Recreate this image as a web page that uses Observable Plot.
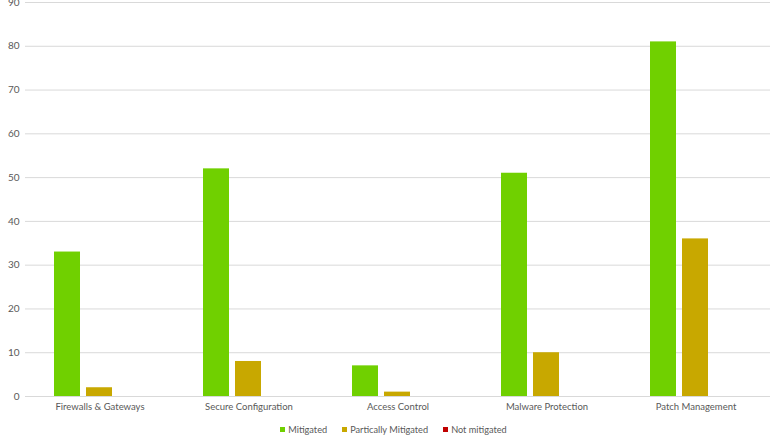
<!DOCTYPE html>
<html><head><meta charset="utf-8">
<script src="https://cdn.jsdelivr.net/npm/d3@7"></script>
<script src="https://cdn.jsdelivr.net/npm/@observablehq/plot@0.6"></script>
<style>
body{margin:0;background:#fff;font-family:Lato,"Open Sans",sans-serif;}
#legend{display:flex;justify-content:center;align-items:center;height:18px;font-size:9.2px;color:#595959;gap:15px;padding-left:6px;}
#legend span.sw{display:inline-block;width:5px;height:5px;margin-right:3px;vertical-align:middle;position:relative;top:-1px;}
</style>
</head><body><div id="chart"></div><div id="legend"></div><script>
const categories = ["Firewalls & Gateways","Secure Configuration","Access Control","Malware Protection","Patch Management"];
const series = ["Mitigated","Partically Mitigated","Not mitigated"];
const mitigated = [33,52,7,51,81];
const partially = [2,8,1,10,36];
const notMitigated = [0,0,0,0,0];
const colors = ["#70d000","#c8a800","#c00000"];
const yTicks = [0,10,20,30,40,50,60,70,80,90];

const values = [mitigated, partially, notMitigated];
const data = categories.flatMap((c,i)=>series.map((s,j)=>({category:c, series:s, value:values[j][i]})));

const chart = Plot.plot({
  width:781, height:420, marginLeft:24, marginRight:10, marginTop:2, marginBottom:24,
  style:{fontFamily:"Lato, 'Open Sans', sans-serif", fontSize:"10px", color:"#595959", background:"#fff"},
  fx:{domain:categories, padding:0, label:null, axis:"bottom", tickSize:0, tickPadding:7},
  x:{domain:series, axis:null, paddingInner:0.182, paddingOuter:0.85},
  y:{domain:[0,90], ticks:yTicks, label:null, tickSize:0, tickPadding:6},
  color:{domain:series, range:colors},
  marks:[
    Plot.ruleY(yTicks,{stroke:"#d9d9d9", strokeWidth:1}),
    Plot.barY(data,{fx:"category", x:"series", y:"value", fill:"series"})
  ]
});
d3.select(chart).selectAll("g[aria-label='fx-axis tick label'] text, g[aria-label='fx-axis'] text").style("font-size","9.5px");
document.getElementById("chart").appendChild(chart);

const legend = document.getElementById("legend");
series.forEach((s,i)=>{
  const item = document.createElement("div");
  const sw = document.createElement("span");
  sw.className = "sw"; sw.style.background = colors[i];
  item.appendChild(sw);
  item.appendChild(document.createTextNode(s));
  legend.appendChild(item);
});
</script></body></html>
